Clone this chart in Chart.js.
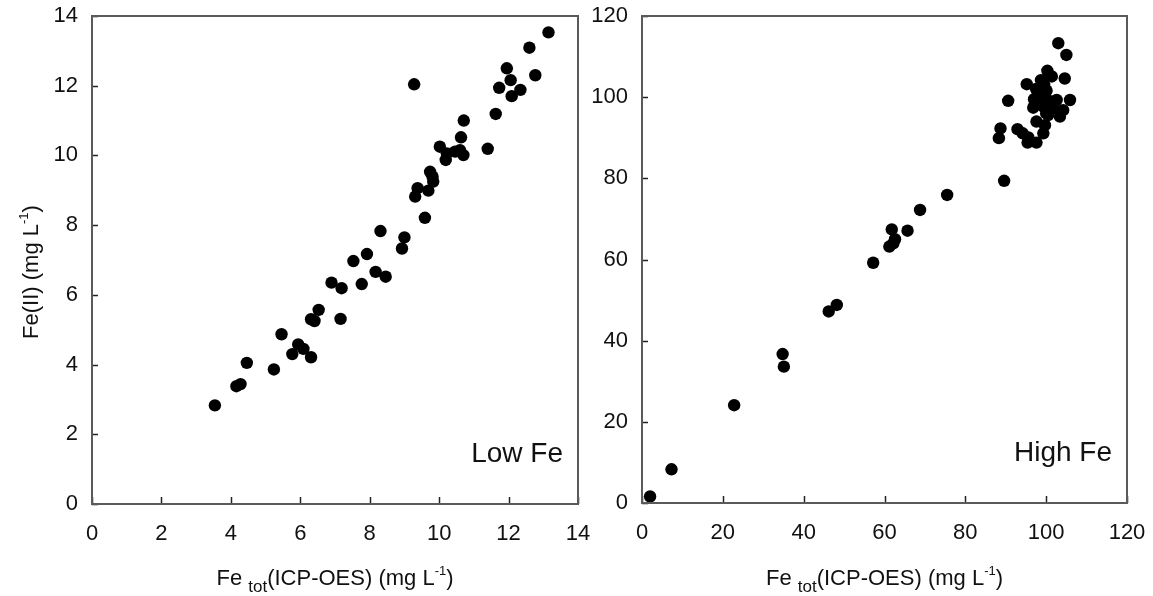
<!DOCTYPE html>
<html>
<head>
<meta charset="utf-8">
<script src="https://cdn.jsdelivr.net/npm/chart.js@4"></script>
<style>
  html, body { margin:0; padding:0; background:#fff; }
  .wrap { position:relative; width:1153px; height:596px; }
  .wrap canvas { position:absolute; left:0; top:0; }
</style>
</head>
<body>
<div class="wrap">
  <canvas id="cvLow" width="1153" height="596"></canvas>
  <canvas id="cvHigh" width="1153" height="596"></canvas>
</div>
<script>
// ==== data ====
const lowTicks  = [0, 2, 4, 6, 8, 10, 12, 14];
const highTicks = [0, 20, 40, 60, 80, 100, 120];

const lowFeX = [13.15, 12.6, 11.95, 12.77, 12.06, 11.73, 12.34, 12.09, 9.28, 11.63,
  10.71, 10.63, 10.02, 11.40, 10.22, 10.19, 10.46, 10.70, 10.60, 9.74,
  9.81, 9.83, 9.38, 9.31, 9.69, 9.59, 8.31, 9.0, 8.93, 7.92,
  7.53, 8.17, 8.46, 6.90, 7.77, 7.19, 6.53, 6.31, 6.41, 7.16,
  5.46, 5.94, 6.09, 5.77, 6.31, 4.46, 5.24, 4.28, 4.16, 3.54];
const lowFeY = [13.53, 13.09, 12.50, 12.30, 12.16, 11.94, 11.88, 11.70, 12.04, 11.19,
  11.0, 10.52, 10.25, 10.19, 10.06, 9.87, 10.11, 10.01, 10.15, 9.53,
  9.39, 9.25, 9.06, 8.82, 8.99, 8.21, 7.83, 7.65, 7.33, 7.17,
  6.97, 6.66, 6.52, 6.35, 6.31, 6.19, 5.57, 5.30, 5.25, 5.31,
  4.87, 4.58, 4.45, 4.30, 4.21, 4.05, 3.86, 3.44, 3.38, 2.83];

const highFeX = [103.0, 105.0, 100.3, 101.4, 104.6, 98.7, 95.2, 98.0, 100.1, 98.9,
  102.6, 105.9, 90.6, 96.8, 99.3, 101.8, 104.2, 103.4, 100.5, 97.6,
  99.7, 99.3, 88.7, 88.3, 92.9, 94.2, 95.6, 95.4, 97.6, 89.6,
  75.5, 68.8, 61.8, 65.7, 62.6, 62.2, 61.2, 57.2, 48.2, 46.2,
  34.8, 35.1, 22.8, 7.3, 2.0, 97.0, 99.5, 101.0, 97.5, 100.0];
const highFeY = [113.3, 110.4, 106.5, 105.1, 104.6, 104.2, 103.2, 101.4, 101.6, 100.1,
  99.3, 99.3, 99.1, 97.4, 97.7, 97.3, 96.8, 95.2, 95.6, 94.0,
  93.1, 91.1, 92.3, 89.9, 92.1, 91.1, 90.1, 88.8, 88.8, 79.4,
  75.9, 72.2, 67.4, 67.1, 65.0, 64.0, 63.2, 59.2, 48.8, 47.2,
  36.7, 33.6, 24.1, 8.3, 1.6, 99.5, 103.0, 99.0, 102.0, 96.0];

const FONT = '"Liberation Sans", Arial, sans-serif';

/* ===== 枠・内向き目盛・ラベル ===== */
const framePlugin = {
  id: 'frame',
  afterDraw(c, args, opts) {
    const ctx = c.ctx, a = c.chartArea;
    ctx.save();
    // 内向きの目盛
    ctx.strokeStyle = '#222';
    ctx.lineWidth = 1.5;
    const sx = c.scales.x, sy = c.scales.y;
    sx.ticks.forEach(t => {
      const px = Math.round(sx.getPixelForValue(t.value)) + 0.5;
      ctx.beginPath(); ctx.moveTo(px, a.bottom); ctx.lineTo(px, a.bottom - 7); ctx.stroke();
    });
    sy.ticks.forEach(t => {
      const py = Math.round(sy.getPixelForValue(t.value)) + 0.5;
      ctx.beginPath(); ctx.moveTo(a.left, py); ctx.lineTo(a.left + 6, py); ctx.stroke();
    });
    // 枠
    ctx.strokeStyle = '#5a5a5a';
    ctx.lineWidth = 2;
    ctx.strokeRect(a.left, a.top, a.right - a.left, a.bottom - a.top);

    // パネル名
    ctx.fillStyle = '#111';
    ctx.font = `28px ${FONT}`;
    ctx.textAlign = 'right';
    ctx.textBaseline = 'alphabetic';
    ctx.fillText(opts.tag, a.right - 15, a.bottom - 42);

    // x 軸タイトル  Fe tot(ICP-OES) (mg L-1)
    const parts = [
      { t: 'Fe ', f: 22, dy: 0 },
      { t: 'tot', f: 17, dy: 7 },
      { t: '(ICP-OES) (mg L', f: 22, dy: 0 },
      { t: '-1', f: 13, dy: -10 },
      { t: ')', f: 22, dy: 0 }
    ];
    let w = 0;
    parts.forEach(p => { ctx.font = `${p.f}px ${FONT}`; p.w = ctx.measureText(p.t).width; w += p.w; });
    let x = (a.left + a.right) / 2 - w / 2;
    const base = 585;
    ctx.textAlign = 'left';
    parts.forEach(p => { ctx.font = `${p.f}px ${FONT}`; ctx.fillText(p.t, x, base + p.dy); x += p.w; });

    // y 軸タイトル（左パネルのみ）
    if (opts.yTitle) {
      const yp = [
        { t: 'Fe(II) (mg L', f: 22, dy: 0 },
        { t: '-1', f: 13, dy: -10 },
        { t: ')', f: 22, dy: 0 }
      ];
      let yw = 0;
      yp.forEach(p => { ctx.font = `${p.f}px ${FONT}`; p.w = ctx.measureText(p.t).width; yw += p.w; });
      ctx.translate(38, 272);
      ctx.rotate(-Math.PI / 2);
      let xx = -yw / 2;
      yp.forEach(p => { ctx.font = `${p.f}px ${FONT}`; ctx.fillText(p.t, xx, p.dy); xx += p.w; });
    }
    ctx.restore();
  }
};

// はみ出しラベル分の自動余白を消す（位置は layout.padding だけで決める）
function noOverflow(axis) {
  axis.paddingLeft = 0; axis.paddingRight = 0;
  axis.paddingTop = 0; axis.paddingBottom = 0;
}

function makePanel(id, xs, ys, ticks, max, yWidth, padRight, xHeight, tag, yTitle) {
  const pts = xs.map((v, i) => ({ x: v, y: ys[i] }));
  const tickCb = (ticksArr) => (axis) => { axis.ticks = ticksArr.map(v => ({ value: v })); };
  return new Chart(document.getElementById(id), {
    type: 'scatter',
    data: { datasets: [{
      data: pts,
      pointRadius: 6.2,
      pointHoverRadius: 6.2,
      backgroundColor: '#000',
      borderColor: '#000',
      borderWidth: 0
    }]},
    options: {
      responsive: false,
      animation: false,
      layout: { padding: { top: 16, right: padRight, left: 0, bottom: 0 } },
      scales: {
        x: {
          type: 'linear', min: 0, max: max,
          afterBuildTicks: tickCb(ticks),
          afterFit(axis) { axis.height = xHeight; noOverflow(axis); },
          grid: { display: false, drawTicks: false },
          border: { display: false },
          ticks: { padding: 17, color: '#111', font: { family: FONT, size: 22 } }
        },
        y: {
          type: 'linear', min: 0, max: max,
          afterBuildTicks: tickCb(ticks),
          afterFit(axis) { axis.width = yWidth; noOverflow(axis); },
          grid: { display: false, drawTicks: false },
          border: { display: false },
          ticks: { padding: 14, color: '#111', font: { family: FONT, size: 22 } }
        }
      },
      plugins: {
        legend: { display: false },
        tooltip: { enabled: false },
        frame: { tag: tag, yTitle: yTitle }
      }
    },
    plugins: [framePlugin]
  });
}

// 2枚の透明キャンバスを重ねて左右のパネルを置く
makePanel('cvLow',  lowFeX,  lowFeY,  lowTicks,  14,  92,  575, 92, 'Low Fe',  true);
makePanel('cvHigh', highFeX, highFeY, highTicks, 120, 642, 26,  93, 'High Fe', false);
</script>
</body>
</html>
